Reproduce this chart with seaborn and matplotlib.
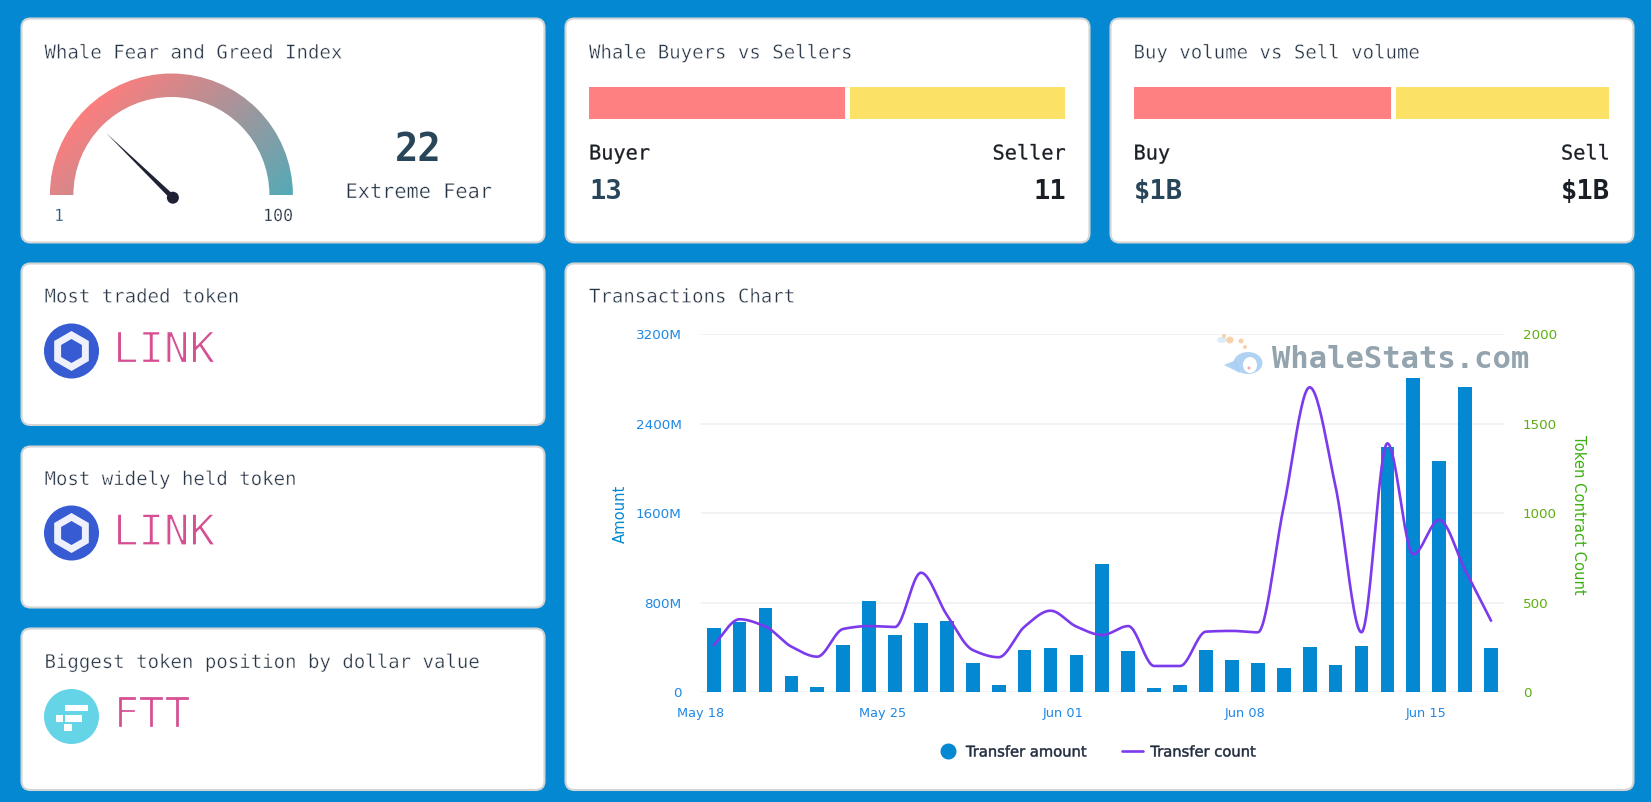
import numpy as np
import pandas as pd
import matplotlib
matplotlib.use("Agg")
import matplotlib.pyplot as plt
import matplotlib.patheffects as pe
import seaborn as sns
from matplotlib.lines import Line2D
from matplotlib.patches import Circle, Ellipse, FancyBboxPatch, Polygon, Rectangle, Wedge

# Chart values
dates = pd.date_range("2022-05-18", "2022-06-17")
transfer_amount = [572, 629, 751, 146, 45, 426, 820, 516, 617, 638, 259, 69, 381, 393, 337, 1144,
                   370, 36, 69, 381, 292, 259, 215, 405, 247, 414, 2193, 2810, 2071, 2730, 393]
transfer_count = [264, 408, 367, 255, 199, 354, 370, 365, 668, 432, 236, 196, 367, 456, 367, 320,
                  370, 147, 147, 339, 343, 335, 1037, 1704, 1149, 335, 1391, 771, 963, 683, 400]
amount_ticks = [0, 800, 1600, 2400, 3200]
count_ticks = [0, 500, 1000, 1500, 2000]
tick_every = 7

fear_greed = 22
fear_greed_label = "Extreme Fear"
buyers = [13, 11]
volumes = [1.2, 1.0]  # both shown as $1B, split taken from the bar

W, H = 1651, 802
BG = "#0388d1"
TITLE = "#263445"
NUM = "#294559"
INK = "#1a1f26"
PINK = "#d64f93"
BLUE_TXT = "#1e88e5"
GREEN_TXT = "#5fae12"
PURPLE = "#7c3aed"
MONO = ["DejaVu Sans Mono"]

sns.set_theme(style="white")
plt.rcParams["font.family"] = ["DejaVu Sans"]

fig = plt.figure(figsize=(W / 100, H / 100), dpi=100, facecolor=BG)

# Whole figure axes in pixels, for cards and texts
bg = fig.add_axes([0, 0, 1, 1])
bg.set_xlim(0, W)
bg.set_ylim(H, 0)
bg.axis("off")


def px_axes(x0, y0, x1, y1):
    return fig.add_axes([x0 / W, 1 - y1 / H, (x1 - x0) / W, (y1 - y0) / H])


def card(x0, y0, x1, y1):
    bg.add_patch(FancyBboxPatch((x0, y0), x1 - x0, y1 - y0, boxstyle="round,pad=0,rounding_size=9",
                                fc="white", ec="#d2d4d6", lw=1.5))


def mono(x, y, s, size, color=TITLE, ha="left", weight="normal", thin=0.0, thick=0.0):
    t = bg.text(x, y, s, fontsize=size, color=color, ha=ha, va="center", family=MONO, weight=weight)
    # the site font is lighter than DejaVu, so eat into the glyphs a little
    if thin:
        t.set_path_effects([pe.Stroke(linewidth=thin, foreground="white")])
    if thick:
        t.set_path_effects([pe.Stroke(linewidth=thick, foreground=color)])


def hexagon(cx, cy, r, color):
    ang = np.deg2rad(np.arange(30, 390, 60))
    bg.add_patch(Polygon(np.c_[cx + r * np.cos(ang), cy + r * np.sin(ang)], fc=color, ec="none"))


def link_icon(cx, cy):
    bg.add_patch(Circle((cx, cy), 27.5, fc="#375bd2", ec="none"))
    hexagon(cx, cy, 20, "#eef1fb")
    hexagon(cx, cy, 12, "#375bd2")


def ftt_icon(cx, cy):
    bg.add_patch(Circle((cx, cy), 27.5, fc="#64d4e6", ec="none"))
    for x0, x1, y0, y1 in [(65, 87.5, 704.5, 711), (65, 81.5, 714.5, 721.5),
                           (55.5, 63, 714.5, 721.5), (64, 72, 724, 731)]:
        bg.add_patch(Rectangle((x0, y0), x1 - x0, y1 - y0, fc="white", ec="none"))


def split_bar(x0, x1, y0, y1, values):
    ax = px_axes(x0, y0, x1, y1)
    ax.barh([0], [values[0]], height=1, color="#ff8080", linewidth=0)
    ax.barh([0], [values[1]], left=[values[0]], height=1, color="#fbe267", linewidth=0)
    ax.axvline(values[0], color="white", lw=3.5)
    ax.set_xlim(0, sum(values))
    ax.set_ylim(-0.5, 0.5)
    ax.axis("off")


def smooth_line(y, per_seg=24):
    # monotone cubic through the points, same look as the smoothed line on the site
    y = np.asarray(y, dtype=float)
    d = np.diff(y)
    m = np.zeros(len(y))
    for i in range(1, len(y) - 1):
        if d[i - 1] * d[i] > 0:
            m[i] = 2 * d[i - 1] * d[i] / (d[i - 1] + d[i])
    m[0], m[-1] = d[0], d[-1]
    xs, ys = [], []
    t = np.linspace(0, 1, per_seg, endpoint=False)
    for i in range(len(y) - 1):
        ys.append((2 * t**3 - 3 * t**2 + 1) * y[i] + (t**3 - 2 * t**2 + t) * m[i]
                  + (-2 * t**3 + 3 * t**2) * y[i + 1] + (t**3 - t**2) * m[i + 1])
        xs.append(i + t)
    return np.r_[np.concatenate(xs), len(y) - 1], np.r_[np.concatenate(ys), y[-1]]


# Cards
card(21.5, 18.5, 544.5, 242.5)
card(565.5, 18.5, 1089.5, 242.5)
card(1110.5, 18.5, 1633.5, 242.5)
card(21.5, 263.5, 544.5, 425)
card(21.5, 446.5, 544.5, 607.5)
card(21.5, 628.5, 544.5, 790)
card(565.5, 263.5, 1633.5, 790)

# Gauge
cx, cy = 171.4, 195
yy, xx = np.mgrid[70:200, 45:298]
grad = np.clip((xx + yy - 190) / (488 - 190), 0, 1)
c0, c1 = np.array(matplotlib.colors.to_rgb("#ff7d7d")), np.array(matplotlib.colors.to_rgb("#52abb7"))
img = bg.imshow(c0 + (c1 - c0) * grad[..., None], extent=(45, 298, 200, 70), aspect="auto", zorder=2)
bg.set_xlim(0, W)
bg.set_ylim(H, 0)
arc = Wedge((cx, cy), 121.5, 180, 360, width=23.5, fc="none", ec="none", transform=bg.transData)
bg.add_patch(arc)
img.set_clip_path(arc)

ang = np.deg2rad(180 * (1 - (fear_greed + 2.5) / 100))
px, py = 172.9, 197.7
tip = (px + 93 * np.cos(ang), py - 93 * np.sin(ang))
nx, ny = np.sin(ang) * 2.6, np.cos(ang) * 2.6
bg.add_patch(Polygon([tip, (px + nx, py + ny), (px - nx, py - ny)], fc="#1f2235", ec="none", zorder=3))
bg.add_patch(Circle((px, py), 6, fc="#1f2235", ec="none", zorder=3))

mono(44.5, 53, "Whale Fear and Greed Index", 13.7, thin=0.3)
mono(59, 216, "1", 12, color="#2b5d80", ha="center", thin=0.2)
mono(278, 216, "100", 12, color=TITLE, ha="center", thin=0.2)
mono(418.5, 150, str(fear_greed), 28, color=NUM, ha="center", weight="bold")
mono(419, 192.5, fear_greed_label, 14.6, color=TITLE, ha="center", thin=0.3)

# Buyers vs sellers
mono(589, 53, "Whale Buyers vs Sellers", 13.7, thin=0.3)
split_bar(589, 1064.5, 87, 118.5, buyers)
mono(589, 154, "Buyer", 14.6, color=INK, thick=0.2)
mono(1066, 154, "Seller", 14.6, color=INK, ha="right", thick=0.2)
mono(589, 192, str(buyers[0]), 19.5, color=NUM, weight="bold")
mono(1066, 192, str(buyers[1]), 19.5, color=INK, ha="right", weight="bold")

# Buy vs sell volume
mono(1133.5, 53, "Buy volume vs Sell volume", 13.7, thin=0.3)
split_bar(1133.5, 1608.5, 87, 118.5, volumes)
mono(1133.5, 154, "Buy", 14.6, color=INK, thick=0.2)
mono(1610, 154, "Sell", 14.6, color=INK, ha="right", thick=0.2)
mono(1133.5, 192, "$1B", 19.5, color=NUM, weight="bold")
mono(1610, 192, "$1B", 19.5, color=INK, ha="right", weight="bold")

# Token cards
mono(44.5, 297, "Most traded token", 13.7, thin=0.3)
link_icon(71.5, 351)
mono(113, 350.5, "LINK", 30.5, color=PINK, thin=0.9)

mono(44.5, 479.5, "Most widely held token", 13.7, thin=0.3)
link_icon(71.5, 533)
mono(113, 533, "LINK", 30.5, color=PINK, thin=0.9)

mono(44.5, 662.5, "Biggest token position by dollar value", 13.7, thin=0.3)
ftt_icon(71.5, 716.5)
mono(113, 715, "FTT", 30.5, color=PINK, thin=0.9)

# Transactions chart
mono(589, 297, "Transactions Chart", 13.7, thin=0.3)

ax = px_axes(700.7, 334.3, 1504, 692.3)
ax.patch.set_alpha(0)
df = pd.DataFrame({"day": dates.strftime("%b %d"), "amount": transfer_amount})
sns.barplot(data=df, x="day", y="amount", color=BG, saturation=1, width=0.53, linewidth=0, ax=ax, zorder=2)
ax.set_xlim(-0.5, len(dates) - 0.5)
ax.set_ylim(amount_ticks[0], amount_ticks[-1])
ax.set_yticks(amount_ticks)
ax.set_yticklabels(["0"] + [f"{v}M" for v in amount_ticks[1:]], color=BLUE_TXT, fontsize=9.7)
ax.set_xticks(np.arange(0, len(dates), tick_every) - 0.5)
ax.set_xticklabels(dates[::tick_every].strftime("%b %d"), color=BLUE_TXT, fontsize=9.3)
ax.tick_params(axis="both", length=0)
ax.tick_params(axis="x", pad=10.5)
ax.tick_params(axis="y", pad=13.7)
ax.grid(axis="y", color="#eff1f3", lw=1.3, zorder=0)
ax.set_axisbelow(True)
ax.set_xlabel("")
ax.set_ylabel("")
sns.despine(ax=ax, left=True, bottom=True)

ax2 = ax.twinx()
lx, ly = smooth_line(transfer_count)
sns.lineplot(x=lx, y=ly, color=PURPLE, lw=1.9, estimator=None, ax=ax2, zorder=4)
ax2.set_ylim(count_ticks[0], count_ticks[-1])
ax2.set_yticks(count_ticks)
ax2.set_yticklabels([str(v) for v in count_ticks], color=GREEN_TXT, fontsize=9.7)
ax2.tick_params(axis="y", length=0, pad=13.7)
ax2.grid(False)
sns.despine(ax=ax2, left=True, bottom=True, right=True)

fig.text(620.5 / W, 1 - 514 / H, "Amount", color="#0288d1", fontsize=10.6, rotation=90, ha="center", va="center")
fig.text(1578 / W, 1 - 515 / H, "Token Contract Count", color="#3cb011", fontsize=10.6, rotation=-90,
         ha="center", va="center")

handles = [Line2D([], [], marker="o", ls="none", ms=10.5, color=BG, label="Transfer amount"),
           Line2D([], [], color=PURPLE, lw=1.9, label="Transfer count")]
leg = fig.legend(handles=handles, loc="center", bbox_to_anchor=(1097 / W, 1 - 752 / H), ncol=2, frameon=False,
                 fontsize=10.6, labelcolor="#1f2a3c", handlelength=1.45, handletextpad=0.5, columnspacing=2.3)
for t in leg.get_texts():
    t.set_path_effects([pe.Stroke(linewidth=0.35, foreground="#1f2a3c")])

# Watermark on top of the plot
top = fig.add_axes([0, 0, 1, 1])
top.set_xlim(0, W)
top.set_ylim(H, 0)
top.axis("off")
top.text(1272.5, 360, "WhaleStats.com", fontsize=22, color="#93a4af", weight="bold", family=MONO, va="center")
top.add_patch(Ellipse((1222, 340), 10, 6, fc="#dcedf8", ec="none"))
top.add_patch(Ellipse((1248, 363), 29, 22, fc="#a9cff2", ec="none", alpha=0.9))
top.add_patch(Polygon([(1224, 365), (1236, 360), (1240, 373)], fc="#a9cff2", ec="none", alpha=0.9))
top.add_patch(Ellipse((1250, 365), 14, 16, fc="white", ec="none"))
top.add_patch(Circle((1249, 368), 1.5, fc="#f2a6b8", ec="none"))
for dx, dy, r in [(1230, 340, 3.5), (1224, 336, 2), (1241, 341, 2.5), (1245, 347, 2)]:
    top.add_patch(Circle((dx, dy), r, fc="#f7c99a", ec="none", alpha=0.85))

fig.savefig("out.png", dpi=100, facecolor=BG)
